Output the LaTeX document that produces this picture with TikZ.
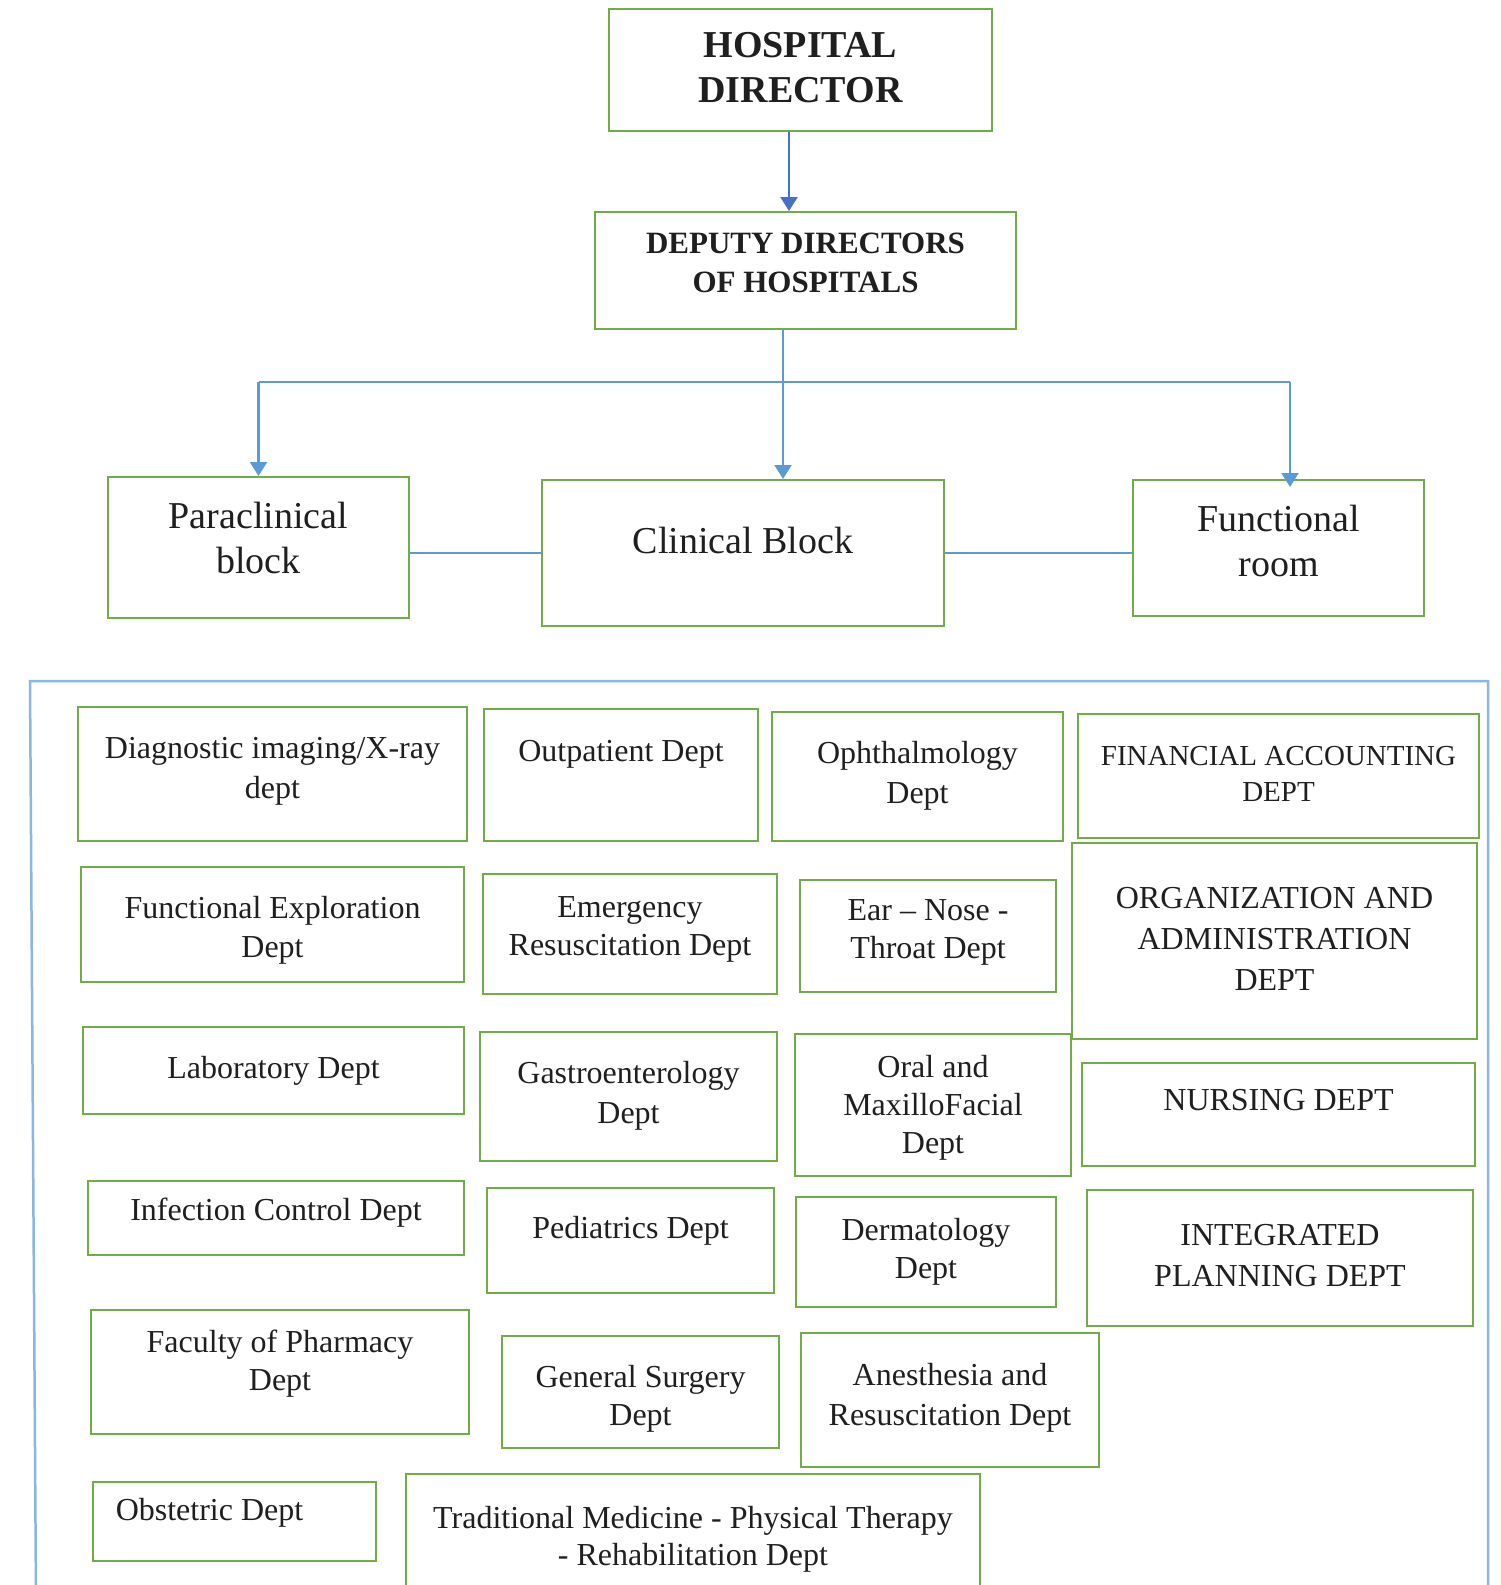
\documentclass[tikz,border=0pt]{standalone}
\usepackage{fontspec}
\setmainfont{Liberation Serif}
\usetikzlibrary{arrows.meta}
\definecolor{boxgreen}{HTML}{70AD47}
\definecolor{lineblue}{HTML}{5B9BD5}
\definecolor{darkblue}{HTML}{4472C4}
\definecolor{frameblue}{HTML}{8AB6E2}
\tikzset{
  box/.style={draw=boxgreen, line width=2pt, inner sep=0pt},
  txt/.style={align=center, anchor=base, inner sep=0pt, text=black!88,
    font=\fontsize{32}{39}\selectfont},
  conn/.style={draw=lineblue, line width=2.2pt},
  arr/.style={conn, -{Triangle[width=17pt,length=14pt]}},
}
% name, left, top, right, bottom, last baseline, text options, text
\newcommand\mybox[8]{%
  \node[box, minimum width={#4-#2}, minimum height={#5-#3}] (#1) at ({(#2+#4)/2},{(#3+#5)/2}) {};
  \node[txt,#7] (#1t) at ({(#2+#4)/2},#6) {#8};}
\begin{document}
\begin{tikzpicture}[x=1pt,y=-1pt]
\useasboundingbox (0,0) rectangle (1500,1585);
% top hierarchy
\mybox{hd}{609}{9}{992}{131}{102}{font=\bfseries\fontsize{38}{45}\selectfont}{HOSPITAL\\DIRECTOR}
\mybox{dep}{595}{212}{1016}{329}{292}{font=\bfseries\fontsize{31}{39}\selectfont}{DEPUTY DIRECTORS\\OF HOSPITALS}
\mybox{para}{108}{477}{409}{618}{573}{font=\fontsize{38}{45}\selectfont}{Paraclinical\\block}
\mybox{clin}{542}{480}{944}{626}{553}{font=\fontsize{38}{45}\selectfont}{Clinical Block}
\mybox{func}{1133}{480}{1424}{616}{576}{font=\fontsize{38}{45}\selectfont}{Functional\\room}
% connectors
\draw[arr, draw=darkblue] ([xshift=-11.5pt]hd.south) -- ([xshift=-16.5pt]dep.north);
\coordinate (jn) at (783,382);
\coordinate (jl) at (para.north |- jn);
\coordinate (jr) at ([xshift=11.5pt]func.north |- jn);
\draw[conn] ([xshift=-22.5pt]dep.south) -- (jn);
\draw[conn] (jl) -- (jr);
\draw[arr] (jn) -- (jn |- clin.north);
\draw[arr] (jl) -- (jl |- para.north);
\draw[arr, shorten >=-8pt] (jr) -- (jr |- func.north);
\draw[conn] (clin.west) -- (clin.west -| para.east);
\draw[conn] (clin.east) -- (clin.east -| func.west);
% frame around departments
\draw[frameblue, line width=2.5pt] (36,1600) -- (30,681) -- (1488,681) -- (1488,1600);
% departments
\mybox{diag}{78}{707}{467}{841}{798}{font=\fontsize{32}{40}\selectfont}{Diagnostic imaging/X-ray\\dept}
\mybox{outp}{484}{709}{758}{841}{761}{}{Outpatient Dept}
\mybox{opht}{772}{712}{1063}{841}{803}{font=\fontsize{32}{40}\selectfont}{Ophthalmology\\Dept}
\mybox{fin}{1078}{714}{1479}{838}{801}{font=\fontsize{29}{36}\selectfont}{FINANCIAL ACCOUNTING\\DEPT}
\mybox{fexp}{81}{867}{464}{982}{957}{}{Functional Exploration\\Dept}
\mybox{emer}{483}{874}{777}{994}{955}{font=\fontsize{32}{38}\selectfont}{Emergency\\Resuscitation Dept}
\mybox{ent}{800}{880}{1056}{992}{958}{font=\fontsize{32}{38}\selectfont}{Ear – Nose -\\Throat Dept}
\mybox{org}{1072}{843}{1477}{1039}{990}{font=\fontsize{32}{41}\selectfont}{ORGANIZATION AND\\ADMINISTRATION\\DEPT}
\mybox{lab}{83}{1027}{464}{1114}{1078}{}{Laboratory Dept}
\mybox{gast}{480}{1032}{777}{1161}{1123}{font=\fontsize{32}{40}\selectfont}{Gastroenterology\\Dept}
\mybox{oral}{795}{1034}{1071}{1176}{1153}{font=\fontsize{32}{38}\selectfont}{Oral and\\MaxilloFacial\\Dept}
\mybox{nurs}{1082}{1063}{1475}{1166}{1110}{}{NURSING DEPT}
\mybox{inf}{88}{1181}{464}{1255}{1220}{}{Infection Control Dept}
\mybox{ped}{487}{1188}{774}{1293}{1238}{}{Pediatrics Dept}
\mybox{derm}{796}{1197}{1056}{1307}{1278}{font=\fontsize{32}{38}\selectfont}{Dermatology\\Dept}
\mybox{integ}{1087}{1190}{1473}{1326}{1286}{font=\fontsize{32}{41}\selectfont}{INTEGRATED\\PLANNING DEPT}
\mybox{fac}{91}{1310}{469}{1434}{1390}{font=\fontsize{32}{38}\selectfont}{Faculty of Pharmacy\\Dept}
\mybox{gen}{502}{1336}{779}{1448}{1425}{font=\fontsize{32}{38}\selectfont}{General Surgery\\Dept}
\mybox{anes}{801}{1333}{1099}{1467}{1425}{font=\fontsize{32}{40}\selectfont}{Anesthesia and\\Resuscitation Dept}
\mybox{obst}{93}{1482}{376}{1561}{1520}{xshift=-25pt}{Obstetric Dept}
\mybox{trad}{406}{1474}{980}{1610}{1565}{font=\fontsize{32}{37}\selectfont}{Traditional Medicine - Physical Therapy\\- Rehabilitation Dept}
\end{tikzpicture}
\end{document}
